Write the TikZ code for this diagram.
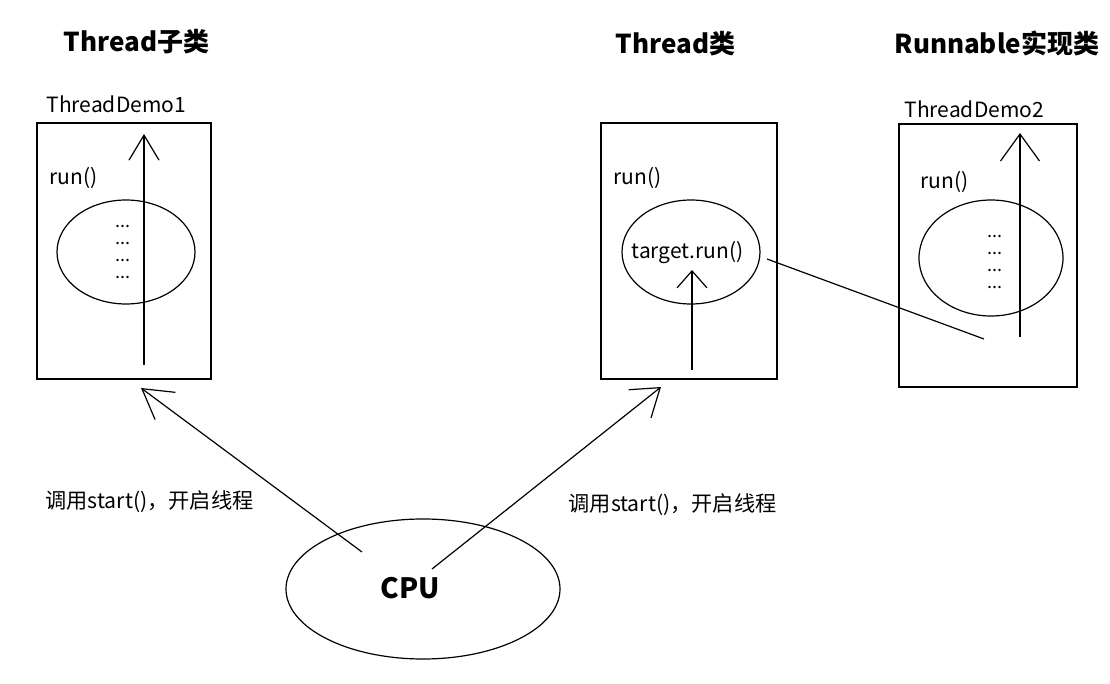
\documentclass[tikz,border=0pt]{standalone}
\usepackage{fontspec}
\setmainfont{Noto Sans CJK SC}
\usetikzlibrary{arrows.meta,positioning,shapes.geometric}

\begin{document}
\begin{tikzpicture}[
  x=0.5pt,y=-0.5pt,
  font=\fontsize{10.5}{12}\selectfont,
  line width=0.6pt,
  ttl/.style={font=\fontsize{13}{15}\selectfont\bfseries,inner sep=0pt,anchor=base west},
  txt/.style={inner sep=0pt,anchor=base west},
  cls/.style={draw,inner sep=0pt,minimum width=#1},
  oval/.style={draw,ellipse,inner sep=0pt},
  dots/.style={inner sep=0pt,align=center,font=\fontsize{9}{8.5}\selectfont},
  a/.style={-{Straight Barb[length=#1]}},
  a/.default=12pt
]
\useasboundingbox (0,0) rectangle (1110,684);

% titles
\node[ttl] (tsub) at (63,52) {Thread子类};
\node[ttl] (tthr) at (615,54) {Thread类};
\node[ttl] (trun) at (894,54) {Runnable实现类};

% class boxes
\node[cls=87pt,minimum height=128pt] (demo1) at (124,251) {};
\node[cls=88pt,minimum height=128pt] (thr) at (689,251) {};
\node[cls=89pt,minimum height=131.5pt] (demo2) at (988,255.5) {};
\node[txt] (n1) at (46,113) {ThreadDemo1};
\node[txt] (n2) at (904,118) {ThreadDemo2};

% run() bodies
\node[txt] (r1) at (49,185) {run()};
\node[txt] (r2) at (613,185) {run()};
\node[txt] (r3) at (920,189) {run()};
\node[oval,minimum width=69pt,minimum height=52pt] (e1) at (126,252) {};
\node[oval,minimum width=69pt,minimum height=52pt] (e2) at (691,252) {};
\node[oval,minimum width=72pt,minimum height=58pt] (e3) at (991,258) {};
\node[dots] (d1) at (123,252) {...\\...\\...\\...};
\node[dots] (d3) at (995,262) {...\\...\\...\\...};
\node[txt] (tgt) at (631,259) {target.run()};

% cpu
\node[oval,minimum width=137pt,minimum height=70pt] (cpu) at (423,589) {};
\node[txt,font=\fontsize{14}{16}\selectfont\bfseries] (cpul) at (380,598) {CPU};
\node[txt,font=\fontsize{10.6}{12}\selectfont] (l1) at (45,509) {调用start()，开启线程};
\node[txt,font=\fontsize{10.6}{12}\selectfont] (l2) at (568,512) {调用start()，开启线程};

% connector ends
\coordinate (p1) at (144,365);
\coordinate (q1) at (144,134);
\coordinate (p2) at (692,370);
\coordinate (q2) at (692,270);
\coordinate (p3) at (1020,337);
\coordinate (q3) at (1020,133);
\coordinate (s1) at (362,552);
\coordinate (t1) at (141,388);
\coordinate (s2) at (432,569);
\coordinate (t2) at (661,387);
\coordinate (u1) at (767,259);
\coordinate (u2) at (984,339);

\draw[a={12.5pt,width=15pt}] (p1) -- (q1);
\draw[a={8.5pt,width=15pt}] (p2) -- (q2);
\draw[a={13.5pt,width=19.5pt}] (p3) -- (q3);
\draw[a={14.5pt,width=17pt}] (s1) -- (t1);
\draw[a={13pt,width=18pt}] (s2) -- (t2);
\draw (u1) -- (u2);
\end{tikzpicture}
\end{document}
